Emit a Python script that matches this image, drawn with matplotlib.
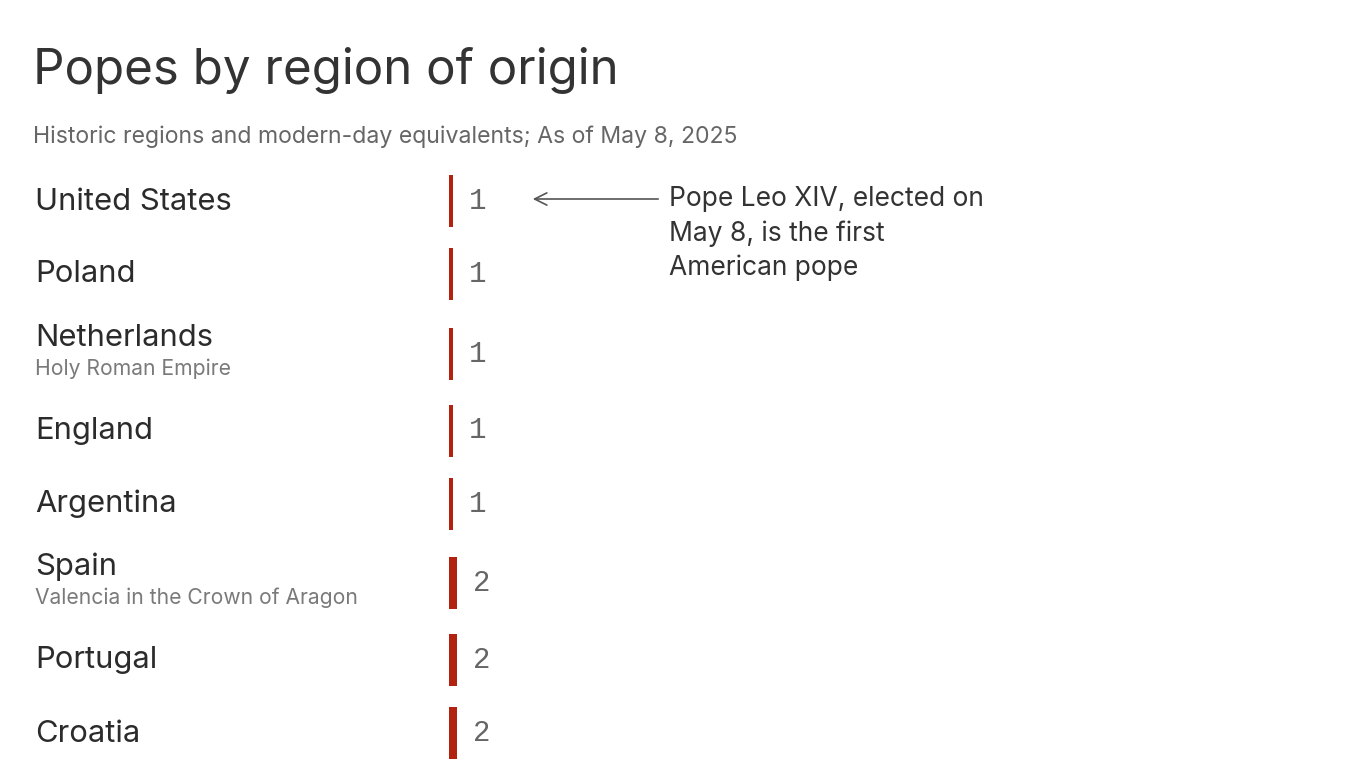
import matplotlib.pyplot as plt
import matplotlib.transforms as mtransforms

plt.rcParams['font.family'] = ['Inter', 'DejaVu Sans']

regions = ["United States", "Poland", "Netherlands", "England", "Argentina",
           "Spain", "Portugal", "Croatia"]
notes = ["", "", "Holy Roman Empire", "", "", "Valencia in the Crown of Aragon", "", ""]
popes = [1, 1, 1, 1, 1, 2, 2, 2]

title = "Popes by region of origin"
subtitle = "Historic regions and modern-day equivalents; As of May 8, 2025"
note_text = "Pope Leo XIV, elected on\nMay 8, is the first\nAmerican pope"

W, H = 1366, 768
fig = plt.figure(figsize=(W / 100, H / 100), dpi=100)
fig.patch.set_facecolor("white")

# bar axes: y in pixels from top, x so that one pope = 4 px
ax = fig.add_axes([449 / W, 0, 200 / W, 1])
ax.set_xlim(0, 50)
ax.set_ylim(H, 0)
ax.axis("off")

# row centres, with a little extra room around rows that have a note
centres = []
y = 201
for i, n in enumerate(notes):
    if i > 0:
        y += 73
        if n:
            y += 6.5
        if notes[i - 1]:
            y += 4
    centres.append(y)

ax.barh(centres, popes, height=52, left=0, color="#b3220f")

for c, v in zip(centres, popes):
    ax.text(v + 4, c, str(v), fontsize=21, color="#666666", va="center", ha="left",
            family=["Liberation Mono", "DejaVu Sans Mono"])

trans = mtransforms.blended_transform_factory(fig.transFigure, ax.transData)
for c, name, n in zip(centres, regions, notes):
    if n:
        ax.text(35 / W, c - 16, name, transform=trans, fontsize=22.3, color="#2b2b2b",
                va="center", ha="left")
        ax.text(35 / W, c + 15, n, transform=trans, fontsize=15.2, color="#7a7a7a",
                va="center", ha="left")
    else:
        ax.text(35 / W, c + 8.5, name, transform=trans, fontsize=22.3, color="#2b2b2b",
                va="baseline", ha="left")

fig.text(33 / W, 1 - 70 / H, title, fontsize=35.5, color="#333333", va="center", ha="left")
fig.text(33 / W, 1 - 137 / H, subtitle, fontsize=16.6, color="#666666", va="center", ha="left")

# annotation with arrow pointing at the US row
fig.text(669 / W, 1 - 186 / H, note_text, fontsize=19, color="#333333", va="top", ha="left",
         linespacing=1.4)
ax.annotate("", xy=(530 / W, centres[0] - 2), xytext=(661 / W, centres[0] - 2),
            xycoords=trans, textcoords=trans,
            arrowprops=dict(arrowstyle="->", color="#555555", lw=1.2,
                            mutation_scale=22))

fig.savefig("out.png", dpi=100, facecolor="white")
